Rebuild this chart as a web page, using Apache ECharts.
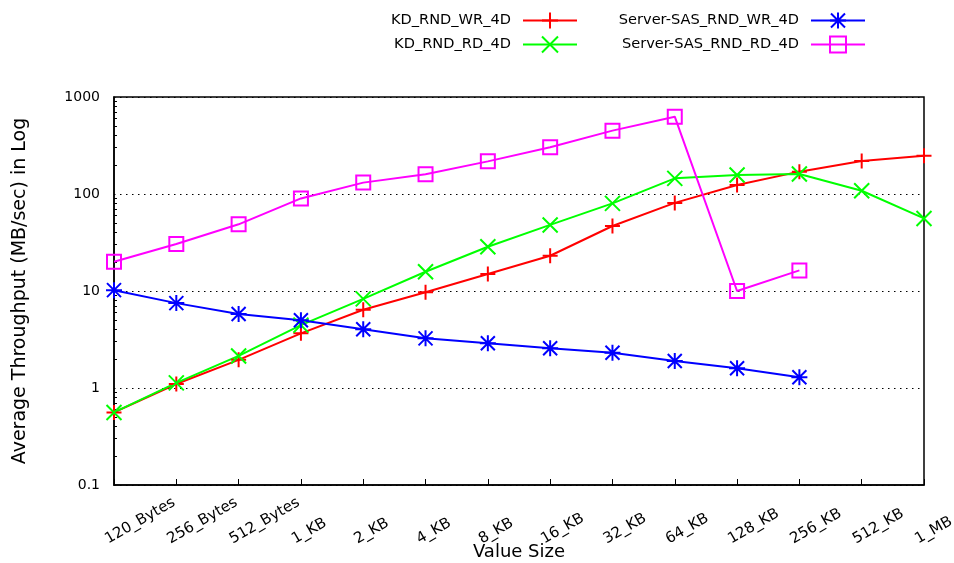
<!DOCTYPE html>
<html>
<head>
<meta charset="utf-8">
<script src="https://cdn.jsdelivr.net/npm/echarts@6/dist/echarts.min.js"></script>
<style>html,body{margin:0;padding:0;background:#fff}#c{width:954px;height:563px}</style>
</head>
<body>
<div id="c"></div>
<script>
var categories = ['120_Bytes','256_Bytes','512_Bytes','1_KB','2_KB','4_KB','8_KB','16_KB','32_KB','64_KB','128_KB','256_KB','512_KB','1_MB'];
var kdWr = [0.56, 1.1, 1.95, 3.66, 6.4, 9.7, 15.0, 23.1, 46.8, 81, 124, 170, 219, 248];
var kdRd = [0.56, 1.13, 2.14, 4.45, 8.3, 15.8, 28.6, 48, 80, 145, 157, 161, 108, 56];
var sasWr = [10.2, 7.5, 5.8, 5.0, 4.03, 3.25, 2.89, 2.57, 2.31, 1.9, 1.6, 1.29];
var sasRd = [20, 30.5, 48.7, 90, 131, 160, 217, 303, 450, 627, 10, 16.3];
var yTickLabels = ['0.1', '1', '10', '100', '1000'];

// minor log ticks (2..9 per decade), expressed as exponents on a linear helper axis
var minorTickExp = [];
[-1, 0, 1, 2].forEach(function (e) { for (var k = 2; k <= 9; k++) minorTickExp.push(e + Math.log10(k)); });

var FONT = 'DejaVu Sans';
var SYM = {
  plus: 'path://M0,8L16,8M8,0L8,16',
  cross: 'path://M0,0L16,16M16,0L0,16',
  star: 'path://M0,8L16,8M8,0L8,16M1,1L15,15M15,1L1,15',
  square: 'path://M0,0L16,0L16,16L0,16Z'
};
function mk(name, data, color, sym, size) {
  return {
    name: name, type: 'line', data: data, xAxisIndex: 0, yAxisIndex: 0,
    symbol: sym, symbolSize: size, showSymbol: true,
    lineStyle: { color: color, width: 2 },
    itemStyle: { color: 'none', borderColor: color, borderWidth: 2 },
    emphasis: { disabled: true }, animation: false
  };
}
function lg(name, right, top) {
  return {
    data: [name], right: right, top: top, padding: 0, align: 'right',
    itemWidth: 54, itemHeight: 20, selectedMode: false,
    textStyle: { fontFamily: FONT, fontSize: 14.6, color: '#000', padding: [0, 7, 0, 0] }
  };
}
var G = { top: 97, bottom: 78, outerBoundsMode: 'none', containLabel: false };
var chart = echarts.init(document.getElementById('c'));
chart.setOption({
  backgroundColor: '#fff',
  animation: false,
  legend: [
    lg('KD_RND_WR_4D', 376, 10),
    lg('KD_RND_RD_4D', 376, 34),
    lg('Server-SAS_RND_WR_4D', 88, 10),
    lg('Server-SAS_RND_RD_4D', 88, 34)
  ],
  grid: [
    Object.assign({ left: 114, right: 30, show: true, borderColor: '#000', borderWidth: 1.5, backgroundColor: 'transparent' }, G),
    Object.assign({ left: 110, right: 34, show: false }, G),
    Object.assign({ left: 114, right: 30, show: false }, G)
  ],
  xAxis: [
    {
      type: 'category', gridIndex: 0, data: categories, boundaryGap: false,
      name: 'Value Size', nameLocation: 'middle', nameGap: 58,
      nameTextStyle: { fontFamily: FONT, fontSize: 18, color: '#000' },
      axisLine: { lineStyle: { color: '#000', width: 1.5 } },
      axisTick: { show: true, inside: true, length: 6, interval: 0, lineStyle: { color: '#000', width: 1 } },
      axisLabel: { show: false },
      splitLine: { show: false }
    },
    {
      type: 'category', gridIndex: 1, data: categories, boundaryGap: false,
      axisLine: { show: false }, axisTick: { show: false }, splitLine: { show: false },
      axisLabel: { show: true, interval: 0, rotate: 30, align: 'left', verticalAlign: 'bottom', margin: 62,
        fontFamily: FONT, fontSize: 15, color: '#000' }
    },
    {
      type: 'category', gridIndex: 2, data: categories, boundaryGap: false, show: false
    }
  ],
  yAxis: [
    {
      type: 'log', gridIndex: 0, logBase: 10, min: 0.1, max: 1000,
      name: 'Average Throughput (MB/sec) in Log', nameLocation: 'middle', nameGap: 84,
      nameTextStyle: { fontFamily: FONT, fontSize: 19, color: '#000' },
      axisLine: { show: true, lineStyle: { color: '#000', width: 1.5 } },
      axisTick: { inside: true, length: 6, lineStyle: { color: '#000', width: 1 } },
      axisLabel: { fontFamily: FONT, fontSize: 14, color: '#000', margin: 14, padding: [7, 0, 0, 0],
        formatter: function (v) { return yTickLabels[Math.round(Math.log10(v)) + 1]; } },
      splitLine: { show: true, lineStyle: { color: '#000', width: 1, type: [1.5, 4.5] } }
    },
    { type: 'value', gridIndex: 1, show: false, min: 0, max: 1 },
    {
      type: 'value', gridIndex: 2, min: -1, max: 3, show: true,
      axisLine: { show: false }, axisLabel: { show: false }, splitLine: { show: false },
      axisTick: { show: true, inside: true, length: 3, customValues: minorTickExp, lineStyle: { color: '#000', width: 1 } }
    }
  ],
  series: [
    mk('KD_RND_WR_4D', kdWr, '#ff0000', SYM.plus, 15),
    mk('KD_RND_RD_4D', kdRd, '#00ff00', SYM.cross, 15),
    mk('Server-SAS_RND_WR_4D', sasWr, '#0000ff', SYM.star, 16),
    mk('Server-SAS_RND_RD_4D', sasRd, '#ff00ff', SYM.square, 14)
  ]
});
</script>
</body>
</html>
